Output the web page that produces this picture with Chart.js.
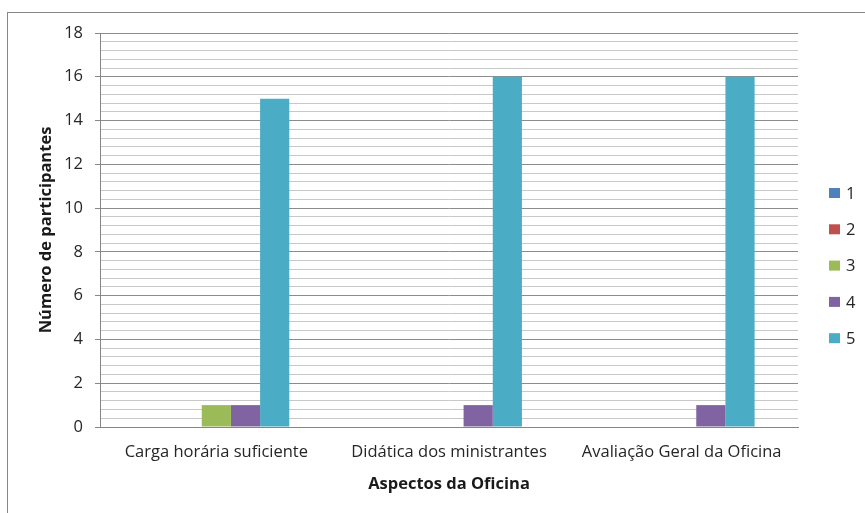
<!DOCTYPE html>
<html>
<head>
<meta charset="utf-8">
<script src="https://cdn.jsdelivr.net/npm/chart.js@4/dist/chart.umd.min.js"></script>
<style>
  html, body { margin: 0; padding: 0; background: #fff; }
  #wrap { width: 865px; height: 513px; position: relative; }
</style>
</head>
<body>
<div id="wrap"><canvas id="ch"></canvas></div>
<script>
  // Dados: avaliação da oficina (escala 1 a 5)
  const categorias = ['Carga horária suficiente', 'Didática dos ministrantes', 'Avaliação Geral da Oficina'];
  const notas = ['1', '2', '3', '4', '5'];
  const nota1 = [0, 0, 0];
  const nota2 = [0, 0, 0];
  const nota3 = [1, 0, 0];
  const nota4 = [1, 1, 1];
  const nota5 = [15, 16, 16];
  const cores = ['#4F81BD', '#C0504D', '#9BBB59', '#8064A2', '#4BACC6'];

  const fonte = "'Open Sans', sans-serif";
  const tam = 16.5;
  const isMajor = v => Math.abs(v / 2 - Math.round(v / 2)) < 1e-6;

  // moldura externa do gráfico
  const moldura = {
    id: 'moldura',
    beforeDraw(chart) {
      const c = chart.ctx;
      c.save();
      c.strokeStyle = '#878787';
      c.lineWidth = 1;
      c.strokeRect(7.5, 12.5, 1000, 1000);
      c.restore();
    },
  };

  // legenda à direita, estilo Excel
  const legenda = {
    id: 'legenda',
    afterDraw(chart) {
      const c = chart.ctx;
      c.save();
      c.font = tam + 'px ' + fonte;
      c.textBaseline = 'middle';
      chart.data.datasets.forEach((ds, i) => {
        const y = 193 + i * 36.3;
        c.fillStyle = ds.backgroundColor;
        c.fillRect(829, y - 5, 11, 10);
        c.fillStyle = '#262626';
        c.fillText(ds.label, 846, y + 1);
      });
      c.restore();
    },
  };

  const series = [nota1, nota2, nota3, nota4, nota5];

  new Chart(document.getElementById('ch'), {
    type: 'bar',
    data: {
      labels: categorias,
      datasets: series.map((d, i) => ({
        label: notas[i],
        data: d,
        backgroundColor: cores[i],
        borderWidth: 0,
        categoryPercentage: 0.627,
        barPercentage: 1,
      })),
    },
    options: {
      responsive: true, maintainAspectRatio: false,
      animation: false,
      layout: { padding: { top: 33, right: 67, left: 0, bottom: 0 } },
      plugins: { legend: { display: false }, tooltip: { enabled: false } },
      scales: {
        x: {
          grid: { display: false, drawTicks: false },
          border: { color: '#868686', width: 1 },
          ticks: { color: '#262626', font: { family: fonte, size: tam }, padding: 15, maxRotation: 0 },
          title: {
            display: true, text: 'Aspectos da Oficina', color: '#1a1a1a',
            font: { family: fonte, size: tam, weight: 'bold' }, padding: { top: 0, bottom: 19 },
          },
          afterFit: s => { s.height = 86; },
        },
        y: {
          min: 0, max: 18,
          grid: {
            color: ctx => isMajor(ctx.tick.value) ? '#8c8c8c' : '#c8c8c8',
            tickColor: ctx => isMajor(ctx.tick.value) ? '#868686' : 'rgba(0,0,0,0)',
            tickLength: 5,
            lineWidth: 1,
          },
          border: { color: '#868686', width: 1 },
          ticks: {
            stepSize: 0.4, autoSkip: false, padding: 12,
            color: '#262626', font: { family: fonte, size: tam },
            callback: v => isMajor(v) ? String(Math.round(v)) : '',
          },
          title: {
            display: true, text: 'Número de participantes', color: '#1a1a1a',
            font: { family: fonte, size: tam, weight: 'bold' }, padding: { top: 36, bottom: 0 },
          },
          afterFit: s => { s.width = 100; },
        },
      },
    },
    plugins: [moldura, legenda],
  });
</script>
</body>
</html>
